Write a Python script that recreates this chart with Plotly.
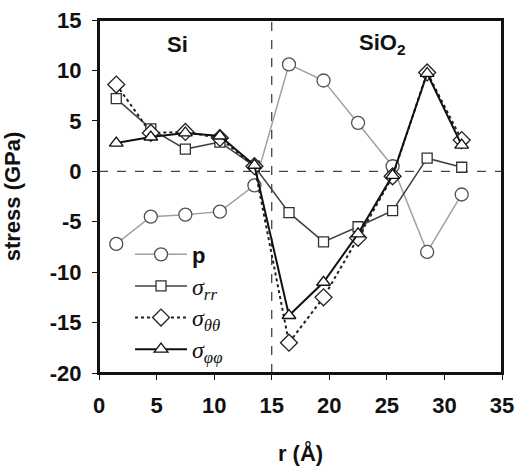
import plotly.graph_objects as go

r = [1.5, 4.5, 7.5, 10.5, 13.5, 16.5, 19.5, 22.5, 25.5, 28.5, 31.5]
p = [-7.2, -4.5, -4.3, -4.0, -1.4, 10.6, 9.0, 4.8, 0.5, -8.0, -2.3]
s_rr = [7.2, 4.2, 2.2, 2.9, 0.5, -4.1, -7.0, -5.5, -3.9, 1.3, 0.4]
s_tt = [8.6, 3.8, 3.9, 3.3, 0.5, -17.0, -12.5, -6.6, -0.5, 9.8, 3.1]
s_pp = [2.8, 3.4, 3.8, 3.5, 0.6, -14.3, -11.0, -6.2, -0.4, 9.7, 2.6]

x_ticks = [0, 5, 10, 15, 20, 25, 30, 35]
y_ticks = [-20, -15, -10, -5, 0, 5, 10, 15]

SANS = "Liberation Sans, Arial, sans-serif"
SERIF_SPAN = "<span style=\"font-family:'Liberation Serif';font-weight:normal;font-style:italic;font-size:24px\">"
NBSP = "\u00a0"

def sig(sub):
    return SERIF_SPAN + "σ<sub>" + sub + "</sub></span>"

fig = go.Figure()
fig.add_trace(go.Scatter(
    x=r, y=p, name="p", mode="lines+markers", legendgroup="a",
    line=dict(color="#a0a0a0", width=1.5),
    marker=dict(symbol="circle", size=13, color="white", line=dict(color="#505050", width=1.3)),
))
fig.add_trace(go.Scatter(
    x=r, y=s_rr, name=sig("rr"), mode="lines+markers", legendgroup="b",
    line=dict(color="#404040", width=1.5),
    marker=dict(symbol="square", size=10, color="white", line=dict(color="#303030", width=1.3)),
))
fig.add_trace(go.Scatter(
    x=r, y=s_tt, name=sig("θθ"), mode="lines+markers", legendgroup="c",
    line=dict(color="#202020", width=2, dash="dot"),
    marker=dict(symbol="diamond", size=13, color="white", line=dict(color="#202020", width=1.3)),
))
fig.add_trace(go.Scatter(
    x=r, y=s_pp, name=sig("φφ"), mode="lines+markers", legendgroup="d",
    line=dict(color="#111111", width=2),
    marker=dict(symbol="triangle-up", size=12, color="white", line=dict(color="#111111", width=1.3)),
))

fig.add_shape(type="line", x0=15, x1=15, y0=-20, y1=15, xref="x", yref="y",
              line=dict(color="#444", width=1.3, dash="dash"), layer="below")
fig.add_shape(type="line", x0=0, x1=35, y0=0, y1=0, xref="x", yref="y",
              line=dict(color="#444", width=1.3, dash="dash"), layer="below")
fig.add_shape(type="rect", x0=0, x1=1, y0=0, y1=1, xref="paper", yref="paper",
              line=dict(color="#111", width=2), fillcolor="rgba(0,0,0,0)", layer="above")

fig.add_annotation(x=6.8, y=12.6, text="Si", showarrow=False,
                   font=dict(family=SANS, size=22, color="#111", weight="bold"))
fig.add_annotation(x=24.6, y=12.6, text="SiO<sub>2</sub>", showarrow=False,
                   font=dict(family=SANS, size=22, color="#111", weight="bold"))

fig.update_layout(
    width=516, height=466,
    margin=dict(l=99, r=14, t=20, b=93),
    paper_bgcolor="white", plot_bgcolor="white",
    font=dict(family=SANS, size=22, color="#111", weight="bold"),
    showlegend=True,
    legend=dict(x=0.077, y=0.395, xanchor="left", yanchor="top",
                bgcolor="rgba(0,0,0,0)", tracegroupgap=0, itemwidth=52,
                font=dict(family=SANS, size=22, color="#111", weight="bold")),
    xaxis=dict(range=[0, 35], tickvals=x_ticks, ticktext=[str(v) for v in x_ticks],
               showgrid=False, zeroline=False, showline=True, mirror=True, automargin=False,
               linecolor="#111", linewidth=2, ticks="outside", ticklen=5, tickcolor="#111",
               ticklabelstandoff=7, ticklabeloverflow="allow",
               tickfont=dict(family=SANS, size=22, weight="bold"),
               title=dict(text="r (Å)", standoff=30,
                          font=dict(family=SANS, size=22, weight="bold"))),
    yaxis=dict(range=[-20, 15], tickvals=y_ticks, ticktext=[str(v) + NBSP for v in y_ticks],
               showgrid=False, zeroline=False, showline=True, mirror=True, automargin=False,
               linecolor="#111", linewidth=2, ticks="outside", ticklen=5, tickcolor="#111",
               ticklabeloverflow="allow",
               tickfont=dict(family=SANS, size=22, weight="bold"),
               title=dict(text="stress (GPa)", standoff=26,
                          font=dict(family=SANS, size=22, weight="bold"))),
)

fig.write_html("out.html", config={"displayModeBar": False},
               post_script="document.body.style.margin='0';")
